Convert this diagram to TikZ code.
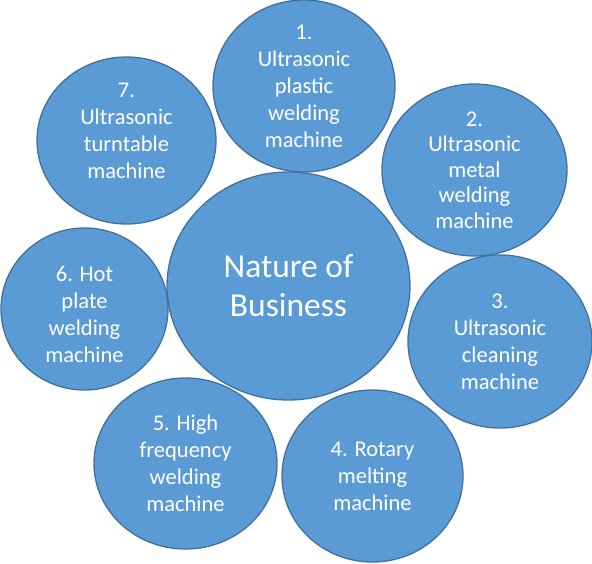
\documentclass[tikz,border=0pt]{standalone}
\usepackage{fontspec}
\setmainfont{Carlito}
\usepackage{xcolor}
\usetikzlibrary{shapes.geometric}

\definecolor{bubblefill}{HTML}{5B9BD5}
\definecolor{bubbleline}{HTML}{41719C}

\begin{document}
\begin{tikzpicture}[x=1pt, y=-1pt,
    bubble/.style={ellipse, draw=bubbleline, fill=bubblefill, line width=1.3pt, inner sep=0pt},
    bubbletext/.style={text=white, align=center, font=\fontsize{22.5}{27}\selectfont},
    hubtext/.style={text=white, align=center, font=\fontsize{33.5}{39}\selectfont}]

    \useasboundingbox (0,0) rectangle (592,563);

    % centre
    \node [bubble, minimum width=243pt, minimum height=228pt] (hub) at (288.5,286) {};
    \node [hubtext] (hubt) at (hub) {Nature of\\Business};

    % the seven machines
    \node [bubble, minimum width=182pt, minimum height=172pt] (m1) at (304,86) {};
    \node [bubble, minimum width=185pt, minimum height=172pt] (m2) at (474.5,170) {};
    \node [bubble, minimum width=184pt, minimum height=173pt] (m3) at (500,341.5) {};
    \node [bubble, minimum width=181pt, minimum height=172pt] (m4) at (372.5,476) {};
    \node [bubble, minimum width=183pt, minimum height=171pt] (m5) at (185.5,463.5) {};
    \node [bubble, minimum width=167pt, minimum height=162pt] (m6) at (84.5,309) {};
    \node [bubble, minimum width=179pt, minimum height=167pt] (m7) at (126.5,140.5) {};

    \node [bubbletext] (t1) at (m1) {1.\\Ultrasonic\\plastic\\welding\\machine};
    \node [bubbletext, font=\fontsize{22.5}{25.5}\selectfont] (t2) at (m2) {2.\\Ultrasonic\\metal\\welding\\machine};
    \node [bubbletext] (t3) at (m3) {3.\\Ultrasonic\\cleaning\\machine};
    \node [bubbletext] (t4) at (m4) {4. Rotary\\melting\\machine};
    \node [bubbletext] (t5) at (m5) {5. High\\frequency\\welding\\machine};
    \node [bubbletext, yshift=-5pt] (t6) at (m6) {6. Hot\\plate\\welding\\machine};
    \node [bubbletext, yshift=10pt] (t7) at (m7) {7.\\Ultrasonic\\turntable\\machine};
\end{tikzpicture}
\end{document}
